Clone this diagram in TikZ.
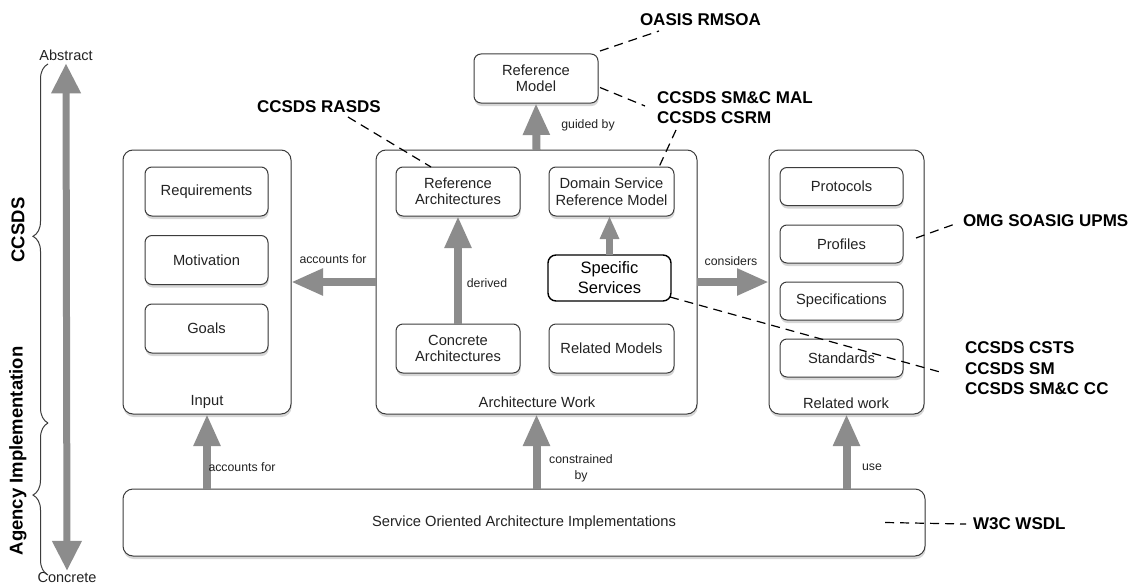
\documentclass[tikz,border=0pt]{standalone}
\usepackage{fontspec}
\setmainfont{Liberation Sans}
\usetikzlibrary{arrows.meta,shadows,decorations.pathreplacing,calc}

\definecolor{arrowgray}{RGB}{140,140,140}
\definecolor{edgegray}{RGB}{60,60,60}
\definecolor{inktext}{RGB}{35,35,35}

\begin{document}
\begin{tikzpicture}[x=1pt,y=-1pt,
  every node/.style={inner sep=0pt,outer sep=0pt},
  softshadow/.style={drop shadow={opacity=0.32,shadow xshift=0.6pt,shadow yshift=-3pt}},
  container/.style={draw=edgegray,line width=1pt,rounded corners=10pt,fill=white,softshadow},
  item/.style={draw=edgegray,line width=1pt,rounded corners=7pt,fill=white,softshadow,
    align=center,text=inktext,font=\fontsize{14.7}{16.5}\selectfont},
  focusitem/.style={draw=black,line width=1.4pt,rounded corners=8pt,fill=white,
    align=center,text=black,font=\fontsize{16.5}{20}\selectfont},
  boxlabel/.style={text=inktext,font=\fontsize{14.7}{16}\selectfont},
  flowlabel/.style={text=inktext,align=center,font=\fontsize{12.3}{16}\selectfont},
  scalelabel/.style={text=inktext,font=\fontsize{14.5}{16}\selectfont},
  annot/.style={anchor=west,align=left,text=black,font=\bfseries\fontsize{17}{20.5}\selectfont},
  sidelabel/.style={rotate=90,text=black,font=\bfseries\fontsize{18.5}{22}\selectfont},
  bigarrow/.style={draw=arrowgray,line width=8pt,-{Triangle[length=32pt,width=25pt]}},
  smallarrow/.style={draw=arrowgray,line width=7pt,-{Triangle[length=23pt,width=18pt]}},
  dashline/.style={draw=black,line width=1.2pt,dash pattern=on 9pt off 6pt},
  bracestyle/.style={draw=edgegray,line width=1pt,decorate}
]
\fill[white] (0,0) rectangle (1134,586);
\useasboundingbox (0,0) rectangle (1134,586);

% containers
\node[container,minimum width=168pt,minimum height=264pt] (input) at (207,282) {};
\node[container,minimum width=321pt,minimum height=264pt] (aw) at (536.5,282) {};
\node[container,minimum width=155pt,minimum height=264pt] (rw) at (846.5,282) {};
\node[container,minimum width=802pt,minimum height=67pt,text=inktext,
  font=\fontsize{14.7}{16}\selectfont] (soa) at (524,522.5)
  {Service Oriented Architecture Implementations};

\node[boxlabel] (inputlbl) at (207,402) {Input};
\node[boxlabel] (awlbl) at (537,402) {Architecture Work};
\node[boxlabel] (rwlbl) at (846,403) {Related work};

% top reference model
\node[item,minimum width=124pt,minimum height=49pt] (refmodel) at (536,78.5) {Reference\\Model};

% input items
\node[item,minimum width=123pt,minimum height=49pt] (req) at (206.5,191.5) {Requirements};
\node[item,minimum width=123pt,minimum height=49pt] (mot) at (206.5,260) {Motivation};
\node[item,minimum width=123pt,minimum height=49pt] (goals) at (206.5,328.5) {Goals};

% architecture work items
\node[item,minimum width=124pt,minimum height=49pt] (refarch) at (458,191.5) {Reference\\Architectures};
\node[item,minimum width=125pt,minimum height=49pt] (dsrm) at (611.5,191.5) {Domain Service\\Reference Model};
\node[focusitem,minimum width=123pt,minimum height=46pt] (spec) at (609.5,278) {Specific\\Services};
\node[item,minimum width=124pt,minimum height=49pt] (concrete) at (458,348.5) {Concrete\\Architectures};
\node[item,minimum width=125pt,minimum height=49pt] (relmod) at (611.5,348.5) {Related Models};

% related work items
\node[item,minimum width=123pt,minimum height=38pt] (protocols) at (841.5,186.5) {Protocols};
\node[item,minimum width=123pt,minimum height=38pt] (profiles) at (841.5,244) {Profiles};
\node[item,minimum width=123pt,minimum height=38pt] (specs) at (841.5,301) {Specifications};
\node[item,minimum width=123pt,minimum height=38pt] (standards) at (841.5,358) {Standards};

% flows between the blocks
\draw[bigarrow] (aw.north) -- (refmodel.south);
\draw[bigarrow] (concrete.north) -- (refarch.south);
\draw[smallarrow] (spec.north) -- (spec.north |- dsrm.south);
\draw[bigarrow] (aw.west) -- (input.east);
\draw[bigarrow] (aw.east) -- (rw.west);
\draw[bigarrow] (soa.north -| input.south) -- (input.south);
\draw[bigarrow] (soa.north -| aw.south) -- (aw.south);
\draw[bigarrow] (soa.north -| rw.south) -- (rw.south);

\node[flowlabel] (lguided) at (588,125) {guided by};
\node[flowlabel] (lderived) at (487,283) {derived};
\node[flowlabel] (lacc) at (333,259) {accounts for};
\node[flowlabel] (lcons) at (731,261) {considers};
\node[flowlabel] (lacc2) at (242,467) {accounts for};
\node[flowlabel] (lconstr) at (581,468) {constrained\\by};
\node[flowlabel] (luse) at (872,467) {use};

% abstraction scale on the left
\node[scalelabel] (abs) at (66,55) {Abstract};
\node[scalelabel] (conc) at (67,578) {Concrete};
\draw[draw=arrowgray,line width=7pt,
  {Triangle[length=30pt,width=28pt]}-{Triangle[length=30pt,width=28pt]}]
  ([yshift=-3pt]abs.south) -- ([yshift=2pt]conc.north);

\draw[bracestyle,decoration={brace,amplitude=15pt,aspect=0.52}] (48,423) -- (48,64);
\draw[bracestyle,decoration={brace,amplitude=15pt,aspect=0.526}] (48,575) -- (48,423);
\node[sidelabel] (ccsds) at (18,230) {CCSDS};
\node[sidelabel] (agency) at (18,451) {Agency Implementation};

% standards annotations
\node[annot] (oasis) at (640,20) {OASIS RMSOA};
\node[annot] (mal) at (657,107.5) {CCSDS SM\&C MAL\\CCSDS CSRM};
\node[annot] (rasds) at (257,107) {CCSDS RASDS};
\node[annot] (omg) at (963,221) {OMG SOASIG UPMS};
\node[annot] (csts) at (965,368.5) {CCSDS CSTS\\CCSDS SM\\CCSDS SM\&C CC};
\node[annot] (w3c) at (973,524) {W3C WSDL};

\coordinate (oasisend) at (659,31);
\coordinate (malend) at (645,106);
\coordinate (csrmstart) at (676,130);
\coordinate (rasdsstart) at (348,117);
\coordinate (omgend) at (955,224);
\coordinate (cstsend) at (940,372);
\coordinate (w3cend) at (966,524);

\draw[dashline] ([shift={(2pt,3pt)}]refmodel.north east) -- (oasisend);
\draw[dashline] ([shift={(2pt,-9pt)}]refmodel.east) -- (malend);
\draw[dashline] (csrmstart) -- ([xshift=-15pt]dsrm.north east);
\draw[dashline] (rasdsstart) -- ([xshift=35pt]refarch.north west);
\draw[dashline] ([shift={(13pt,6pt)}]profiles.east) -- (omgend);
\draw[dashline] ([shift={(-1pt,4pt)}]spec.south east) -- (cstsend);
\draw[dashline] ([xshift=-40pt]soa.east) -- (w3cend);
\end{tikzpicture}
\end{document}
